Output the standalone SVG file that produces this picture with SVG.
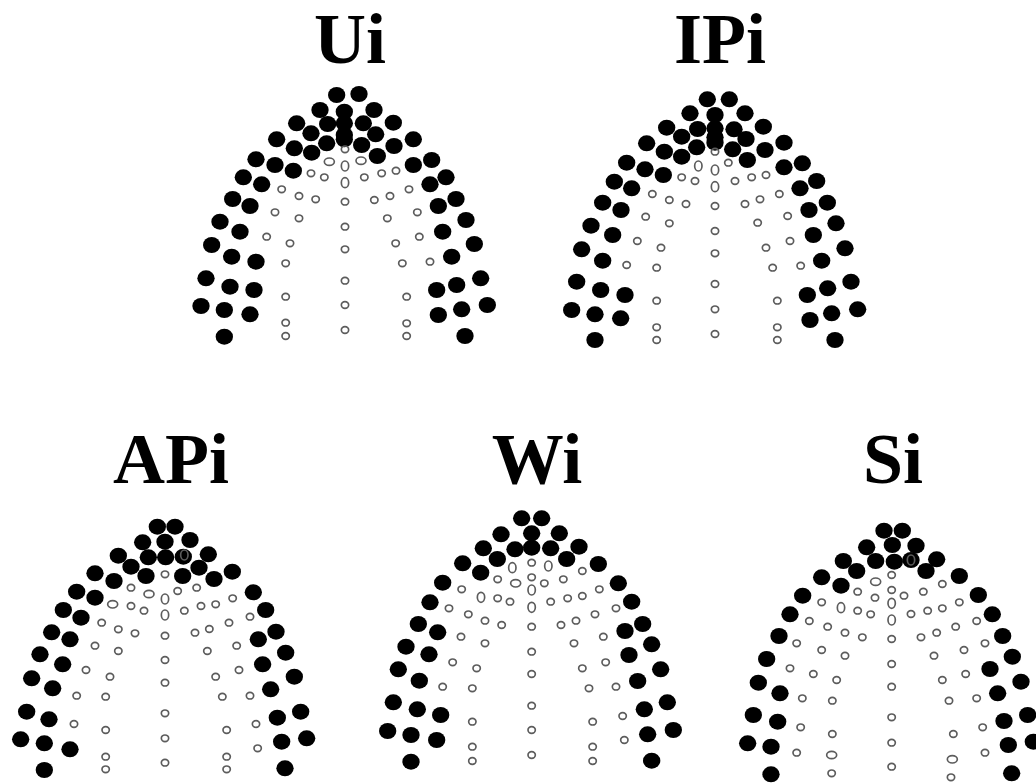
<svg xmlns="http://www.w3.org/2000/svg" xmlns:xlink="http://www.w3.org/1999/xlink" width="1036" height="783" viewBox="0 0 1036 783">
<style>
.t{font-family:"Liberation Serif","Times New Roman",serif;font-weight:bold;font-size:72px;text-anchor:middle;fill:#000}
.f{fill:#000}
.o{fill:none;stroke:#5c5c5c;stroke-width:5}
</style>
<defs>
<ellipse id="F" class="f" rx="26" ry="24"/>
<ellipse id="O" class="o" rx="11" ry="10"/>
<ellipse id="V" class="o" rx="11" ry="15"/>
<ellipse id="H" class="o" rx="15" ry="11"/>
</defs>
<rect width="1036" height="783" fill="#fff"/>
<text class="t" x="350" y="63">Ui</text>
<text class="t" x="720" y="63">IPi</text>
<text class="t" x="171" y="483">APi</text>
<text class="t" x="537" y="483">Wi</text>
<text class="t" x="893" y="483">Si</text>

<g id="ui" transform="translate(185,80) scale(0.33333)">
<use href="#F" x="455" y="45"/><use href="#F" x="522" y="42"/>
<use href="#F" x="405" y="90"/><use href="#F" x="478" y="95"/><use href="#F" x="567" y="90"/>
<use href="#F" x="335" y="130"/><use href="#F" x="428" y="132"/><use href="#F" x="478" y="130"/><use href="#F" x="535" y="130"/><use href="#F" x="625" y="128"/>
<use href="#F" x="378" y="160"/><use href="#F" x="478" y="165"/><use href="#F" x="572" y="163"/>
<use href="#F" x="275" y="178"/><use href="#F" x="425" y="190"/><use href="#F" x="478" y="178"/><use href="#F" x="530" y="195"/><use href="#F" x="627" y="198"/><use href="#F" x="685" y="178"/>
<use href="#F" x="328" y="205"/><use href="#F" x="380" y="218"/><use href="#F" x="577" y="228"/>
<use href="#F" x="213" y="238"/><use href="#F" x="270" y="255"/><use href="#F" x="325" y="272"/><use href="#F" x="685" y="255"/><use href="#F" x="740" y="240"/>
<use href="#F" x="175" y="292"/><use href="#F" x="230" y="313"/><use href="#F" x="735" y="313"/><use href="#F" x="783" y="292"/>
<use href="#F" x="143" y="357"/><use href="#F" x="195" y="378"/><use href="#F" x="760" y="378"/><use href="#F" x="813" y="357"/>
<use href="#F" x="105" y="425"/><use href="#F" x="165" y="455"/><use href="#F" x="773" y="455"/><use href="#F" x="843" y="420"/>
<use href="#F" x="80" y="495"/><use href="#F" x="140" y="530"/><use href="#F" x="213" y="545"/><use href="#F" x="800" y="530"/><use href="#F" x="868" y="492"/>
<use href="#F" x="63" y="595"/><use href="#F" x="135" y="620"/><use href="#F" x="207" y="630"/><use href="#F" x="755" y="630"/><use href="#F" x="815" y="615"/><use href="#F" x="887" y="595"/>
<use href="#F" x="48" y="678"/><use href="#F" x="118" y="690"/><use href="#F" x="195" y="703"/><use href="#F" x="760" y="705"/><use href="#F" x="830" y="688"/><use href="#F" x="907" y="675"/>
<use href="#F" x="118" y="770"/><use href="#F" x="840" y="768"/>
<use href="#O" x="480" y="208"/><use href="#H" x="433" y="245"/><use href="#V" x="480" y="258"/><use href="#H" x="528" y="242"/>
<use href="#O" x="378" y="280"/><use href="#O" x="418" y="292"/><use href="#V" x="480" y="308"/><use href="#O" x="538" y="292"/><use href="#O" x="590" y="280"/><use href="#O" x="633" y="272"/>
<use href="#O" x="290" y="328"/><use href="#O" x="342" y="348"/><use href="#O" x="392" y="358"/><use href="#O" x="480" y="365"/><use href="#O" x="568" y="360"/><use href="#O" x="615" y="348"/><use href="#O" x="672" y="328"/>
<use href="#O" x="270" y="397"/><use href="#O" x="342" y="415"/><use href="#O" x="480" y="440"/><use href="#O" x="607" y="415"/><use href="#O" x="697" y="397"/>
<use href="#O" x="245" y="470"/><use href="#O" x="315" y="490"/><use href="#O" x="480" y="508"/><use href="#O" x="632" y="490"/><use href="#O" x="703" y="470"/>
<use href="#O" x="302" y="550"/><use href="#O" x="480" y="602"/><use href="#O" x="652" y="550"/><use href="#O" x="735" y="545"/>
<use href="#O" x="302" y="650"/><use href="#O" x="480" y="675"/><use href="#O" x="665" y="650"/>
<use href="#O" x="302" y="728"/><use href="#O" x="302" y="768"/><use href="#O" x="480" y="750"/><use href="#O" x="665" y="730"/><use href="#O" x="665" y="768"/>
</g>

<g id="ipi" transform="translate(555,80) scale(0.33333)">
<use href="#F" x="457" y="58"/><use href="#F" x="523" y="58"/>
<use href="#F" x="405" y="100"/><use href="#F" x="480" y="105"/><use href="#F" x="570" y="100"/>
<use href="#F" x="335" y="143"/><use href="#F" x="428" y="147"/><use href="#F" x="480" y="145"/><use href="#F" x="537" y="148"/><use href="#F" x="625" y="140"/>
<use href="#F" x="380" y="170"/><use href="#F" x="480" y="172"/><use href="#F" x="573" y="177"/>
<use href="#F" x="275" y="190"/><use href="#F" x="425" y="202"/><use href="#F" x="480" y="188"/><use href="#F" x="533" y="208"/><use href="#F" x="630" y="210"/><use href="#F" x="687" y="188"/>
<use href="#F" x="328" y="215"/><use href="#F" x="380" y="230"/><use href="#F" x="577" y="240"/>
<use href="#F" x="215" y="248"/><use href="#F" x="270" y="268"/><use href="#F" x="325" y="285"/><use href="#F" x="687" y="262"/><use href="#F" x="742" y="250"/>
<use href="#F" x="178" y="305"/><use href="#F" x="230" y="325"/><use href="#F" x="735" y="325"/><use href="#F" x="785" y="303"/>
<use href="#F" x="143" y="368"/><use href="#F" x="198" y="390"/><use href="#F" x="762" y="390"/><use href="#F" x="817" y="368"/>
<use href="#F" x="108" y="437"/><use href="#F" x="173" y="465"/><use href="#F" x="775" y="465"/><use href="#F" x="843" y="430"/>
<use href="#F" x="80" y="508"/><use href="#F" x="143" y="542"/><use href="#F" x="800" y="542"/><use href="#F" x="870" y="505"/>
<use href="#F" x="65" y="605"/><use href="#F" x="137" y="630"/><use href="#F" x="210" y="645"/><use href="#F" x="757" y="645"/><use href="#F" x="818" y="625"/><use href="#F" x="888" y="605"/>
<use href="#F" x="50" y="690"/><use href="#F" x="120" y="703"/><use href="#F" x="197" y="715"/><use href="#F" x="765" y="720"/><use href="#F" x="830" y="700"/><use href="#F" x="908" y="688"/>
<use href="#F" x="120" y="780"/><use href="#F" x="840" y="780"/>
<use href="#O" x="480" y="215"/><use href="#V" x="430" y="258"/><use href="#V" x="480" y="270"/><use href="#O" x="520" y="248"/>
<use href="#O" x="380" y="292"/><use href="#O" x="420" y="303"/><use href="#V" x="480" y="320"/><use href="#O" x="540" y="303"/><use href="#O" x="590" y="292"/><use href="#O" x="633" y="285"/>
<use href="#O" x="292" y="342"/><use href="#O" x="343" y="360"/><use href="#O" x="393" y="372"/><use href="#O" x="480" y="378"/><use href="#O" x="570" y="372"/><use href="#O" x="615" y="358"/><use href="#O" x="673" y="342"/>
<use href="#O" x="272" y="410"/><use href="#O" x="343" y="430"/><use href="#O" x="480" y="453"/><use href="#O" x="608" y="428"/><use href="#O" x="698" y="408"/>
<use href="#O" x="247" y="483"/><use href="#O" x="318" y="503"/><use href="#O" x="480" y="520"/><use href="#O" x="633" y="503"/><use href="#O" x="705" y="483"/>
<use href="#O" x="215" y="555"/><use href="#O" x="305" y="563"/><use href="#O" x="480" y="612"/><use href="#O" x="653" y="563"/><use href="#O" x="737" y="557"/>
<use href="#O" x="305" y="662"/><use href="#O" x="480" y="688"/><use href="#O" x="667" y="662"/>
<use href="#O" x="305" y="742"/><use href="#O" x="305" y="780"/><use href="#O" x="480" y="762"/><use href="#O" x="667" y="742"/><use href="#O" x="667" y="780"/>
</g>

<g id="api" transform="translate(0,505) scale(0.33333)">
<use href="#F" x="472" y="65"/><use href="#F" x="525" y="65"/>
<use href="#F" x="428" y="112"/><use href="#F" x="495" y="110"/><use href="#F" x="570" y="105"/>
<use href="#F" x="355" y="152"/><use href="#F" x="445" y="157"/><use href="#F" x="497" y="157"/><use href="#F" x="550" y="155"/><use href="#F" x="625" y="148"/>
<use href="#F" x="393" y="185"/><use href="#F" x="597" y="188"/>
<use href="#F" x="285" y="205"/><use href="#F" x="438" y="213"/><use href="#F" x="548" y="213"/><use href="#F" x="642" y="222"/><use href="#F" x="697" y="200"/>
<use href="#F" x="342" y="228"/>
<use href="#F" x="230" y="260"/><use href="#F" x="285" y="278"/><use href="#F" x="760" y="262"/>
<use href="#F" x="190" y="315"/><use href="#F" x="243" y="338"/><use href="#F" x="797" y="315"/>
<use href="#F" x="155" y="382"/><use href="#F" x="210" y="403"/><use href="#F" x="775" y="403"/><use href="#F" x="828" y="380"/>
<use href="#F" x="120" y="448"/><use href="#F" x="188" y="478"/><use href="#F" x="788" y="478"/><use href="#F" x="857" y="443"/>
<use href="#F" x="95" y="520"/><use href="#F" x="158" y="550"/><use href="#F" x="812" y="553"/><use href="#F" x="883" y="515"/>
<use href="#F" x="80" y="620"/><use href="#F" x="147" y="643"/><use href="#F" x="832" y="638"/><use href="#F" x="902" y="620"/>
<use href="#F" x="62" y="703"/><use href="#F" x="133" y="715"/><use href="#F" x="210" y="733"/><use href="#F" x="845" y="710"/><use href="#F" x="920" y="700"/>
<use href="#F" x="133" y="795"/><use href="#F" x="855" y="790"/>
<use href="#O" x="495" y="208"/><use href="#V" x="553" y="150"/>
<use href="#O" x="393" y="248"/><use href="#H" x="447" y="267"/><use href="#V" x="495" y="282"/><use href="#O" x="533" y="258"/><use href="#O" x="590" y="248"/>
<use href="#H" x="338" y="298"/><use href="#O" x="393" y="303"/><use href="#O" x="432" y="317"/><use href="#V" x="495" y="330"/><use href="#O" x="553" y="317"/><use href="#O" x="603" y="303"/><use href="#O" x="647" y="298"/><use href="#O" x="698" y="280"/><use href="#O" x="750" y="335"/>
<use href="#O" x="305" y="353"/><use href="#O" x="355" y="373"/><use href="#O" x="405" y="385"/><use href="#O" x="495" y="392"/><use href="#O" x="585" y="383"/><use href="#O" x="628" y="372"/><use href="#O" x="687" y="353"/>
<use href="#O" x="285" y="422"/><use href="#O" x="355" y="438"/><use href="#O" x="495" y="465"/><use href="#O" x="622" y="438"/><use href="#O" x="710" y="422"/>
<use href="#O" x="258" y="495"/><use href="#O" x="330" y="515"/><use href="#O" x="495" y="533"/><use href="#O" x="647" y="515"/><use href="#O" x="717" y="495"/>
<use href="#O" x="230" y="572"/><use href="#O" x="317" y="575"/><use href="#O" x="495" y="625"/><use href="#O" x="667" y="575"/><use href="#O" x="750" y="572"/>
<use href="#O" x="222" y="657"/><use href="#O" x="317" y="675"/><use href="#O" x="495" y="700"/><use href="#O" x="680" y="675"/><use href="#O" x="768" y="657"/><use href="#O" x="773" y="730"/>
<use href="#O" x="317" y="755"/><use href="#O" x="317" y="793"/><use href="#O" x="495" y="773"/><use href="#O" x="680" y="755"/><use href="#O" x="680" y="793"/>
</g>

<g id="wi" transform="translate(375,500) scale(0.33333)">
<use href="#F" x="440" y="55"/><use href="#F" x="500" y="55"/>
<use href="#F" x="378" y="103"/><use href="#F" x="470" y="100"/><use href="#F" x="553" y="100"/>
<use href="#F" x="325" y="145"/><use href="#F" x="420" y="148"/><use href="#F" x="470" y="143"/><use href="#F" x="527" y="145"/><use href="#F" x="612" y="140"/>
<use href="#F" x="367" y="177"/><use href="#F" x="575" y="177"/>
<use href="#F" x="263" y="190"/><use href="#F" x="317" y="218"/><use href="#F" x="670" y="192"/>
<use href="#F" x="203" y="248"/><use href="#F" x="730" y="250"/>
<use href="#F" x="165" y="307"/><use href="#F" x="770" y="305"/>
<use href="#F" x="130" y="372"/><use href="#F" x="188" y="397"/><use href="#F" x="750" y="393"/><use href="#F" x="803" y="372"/>
<use href="#F" x="93" y="440"/><use href="#F" x="162" y="463"/><use href="#F" x="762" y="465"/><use href="#F" x="830" y="433"/>
<use href="#F" x="70" y="508"/><use href="#F" x="133" y="542"/><use href="#F" x="788" y="543"/><use href="#F" x="857" y="508"/>
<use href="#F" x="55" y="607"/><use href="#F" x="127" y="628"/><use href="#F" x="197" y="645"/><use href="#F" x="808" y="628"/><use href="#F" x="877" y="607"/>
<use href="#F" x="38" y="693"/><use href="#F" x="108" y="705"/><use href="#F" x="185" y="720"/><use href="#F" x="818" y="703"/><use href="#F" x="895" y="690"/>
<use href="#F" x="108" y="785"/><use href="#F" x="830" y="782"/>
<use href="#O" x="470" y="188"/><use href="#V" x="412" y="203"/><use href="#V" x="520" y="198"/><use href="#O" x="622" y="213"/>
<use href="#O" x="368" y="238"/><use href="#O" x="470" y="232"/><use href="#H" x="422" y="250"/><use href="#O" x="508" y="250"/><use href="#O" x="565" y="238"/><use href="#O" x="260" y="268"/><use href="#O" x="673" y="268"/>
<use href="#V" x="318" y="292"/><use href="#O" x="368" y="295"/><use href="#O" x="405" y="305"/><use href="#V" x="470" y="270"/><use href="#V" x="470" y="322"/><use href="#O" x="527" y="305"/><use href="#O" x="578" y="295"/><use href="#O" x="622" y="288"/>
<use href="#O" x="222" y="325"/><use href="#O" x="280" y="343"/><use href="#O" x="330" y="362"/><use href="#O" x="380" y="375"/><use href="#O" x="470" y="380"/><use href="#O" x="558" y="375"/><use href="#O" x="603" y="362"/><use href="#O" x="660" y="343"/><use href="#O" x="723" y="325"/>
<use href="#O" x="258" y="410"/><use href="#O" x="330" y="430"/><use href="#O" x="470" y="455"/><use href="#O" x="597" y="430"/><use href="#O" x="685" y="410"/>
<use href="#O" x="233" y="487"/><use href="#O" x="305" y="505"/><use href="#O" x="470" y="522"/><use href="#O" x="622" y="505"/><use href="#O" x="692" y="487"/>
<use href="#O" x="203" y="560"/><use href="#O" x="292" y="565"/><use href="#O" x="470" y="617"/><use href="#O" x="642" y="565"/><use href="#O" x="723" y="560"/>
<use href="#O" x="292" y="665"/><use href="#O" x="470" y="690"/><use href="#O" x="653" y="665"/><use href="#O" x="743" y="648"/><use href="#O" x="748" y="720"/>
<use href="#O" x="292" y="740"/><use href="#O" x="292" y="783"/><use href="#O" x="470" y="765"/><use href="#O" x="653" y="740"/><use href="#O" x="653" y="783"/>
</g>

<g id="si" transform="translate(730,515) scale(0.33333)">
<use href="#F" x="462" y="47"/><use href="#F" x="517" y="47"/>
<use href="#F" x="410" y="97"/><use href="#F" x="487" y="90"/><use href="#F" x="558" y="92"/>
<use href="#F" x="340" y="138"/><use href="#F" x="437" y="138"/><use href="#F" x="493" y="140"/><use href="#F" x="543" y="135"/><use href="#F" x="620" y="133"/>
<use href="#F" x="380" y="168"/><use href="#F" x="588" y="168"/>
<use href="#F" x="275" y="187"/><use href="#F" x="333" y="212"/><use href="#F" x="688" y="183"/>
<use href="#F" x="218" y="242"/><use href="#F" x="745" y="240"/>
<use href="#F" x="180" y="298"/><use href="#F" x="787" y="298"/>
<use href="#F" x="147" y="363"/><use href="#F" x="818" y="363"/>
<use href="#F" x="110" y="432"/><use href="#F" x="780" y="462"/><use href="#F" x="847" y="425"/>
<use href="#F" x="85" y="503"/><use href="#F" x="150" y="535"/><use href="#F" x="803" y="535"/><use href="#F" x="873" y="500"/>
<use href="#F" x="70" y="600"/><use href="#F" x="143" y="620"/><use href="#F" x="822" y="618"/><use href="#F" x="893" y="600"/>
<use href="#F" x="53" y="685"/><use href="#F" x="123" y="695"/><use href="#F" x="835" y="690"/><use href="#F" x="910" y="680"/>
<use href="#F" x="123" y="778"/><use href="#F" x="845" y="775"/>
<use href="#O" x="485" y="180"/><use href="#H" x="437" y="200"/><use href="#O" x="637" y="207"/><use href="#V" x="543" y="135"/>
<use href="#O" x="383" y="230"/><use href="#O" x="485" y="225"/><use href="#O" x="435" y="248"/><use href="#O" x="522" y="242"/><use href="#O" x="580" y="230"/><use href="#O" x="275" y="262"/><use href="#O" x="688" y="262"/>
<use href="#V" x="333" y="278"/><use href="#O" x="383" y="287"/><use href="#O" x="422" y="298"/><use href="#V" x="485" y="265"/><use href="#V" x="485" y="315"/><use href="#O" x="543" y="297"/><use href="#O" x="593" y="287"/><use href="#O" x="637" y="280"/><use href="#O" x="740" y="318"/>
<use href="#O" x="238" y="318"/><use href="#O" x="293" y="335"/><use href="#O" x="345" y="353"/><use href="#O" x="397" y="367"/><use href="#O" x="485" y="372"/><use href="#O" x="573" y="367"/><use href="#O" x="620" y="353"/><use href="#O" x="677" y="335"/><use href="#O" x="765" y="385"/>
<use href="#O" x="200" y="385"/><use href="#O" x="275" y="405"/><use href="#O" x="345" y="422"/><use href="#O" x="485" y="447"/><use href="#O" x="612" y="422"/><use href="#O" x="702" y="405"/>
<use href="#O" x="180" y="460"/><use href="#O" x="250" y="477"/><use href="#O" x="320" y="495"/><use href="#O" x="485" y="515"/><use href="#O" x="637" y="495"/><use href="#O" x="707" y="477"/>
<use href="#O" x="217" y="550"/><use href="#O" x="307" y="557"/><use href="#O" x="485" y="607"/><use href="#O" x="657" y="557"/><use href="#O" x="740" y="550"/>
<use href="#O" x="212" y="637"/><use href="#O" x="307" y="657"/><use href="#O" x="485" y="683"/><use href="#O" x="670" y="657"/><use href="#O" x="758" y="637"/>
<use href="#O" x="200" y="713"/><use href="#H" x="305" y="720"/><use href="#O" x="305" y="775"/><use href="#O" x="485" y="755"/><use href="#H" x="667" y="733"/><use href="#O" x="663" y="787"/><use href="#O" x="765" y="713"/>
</g>
</svg>
